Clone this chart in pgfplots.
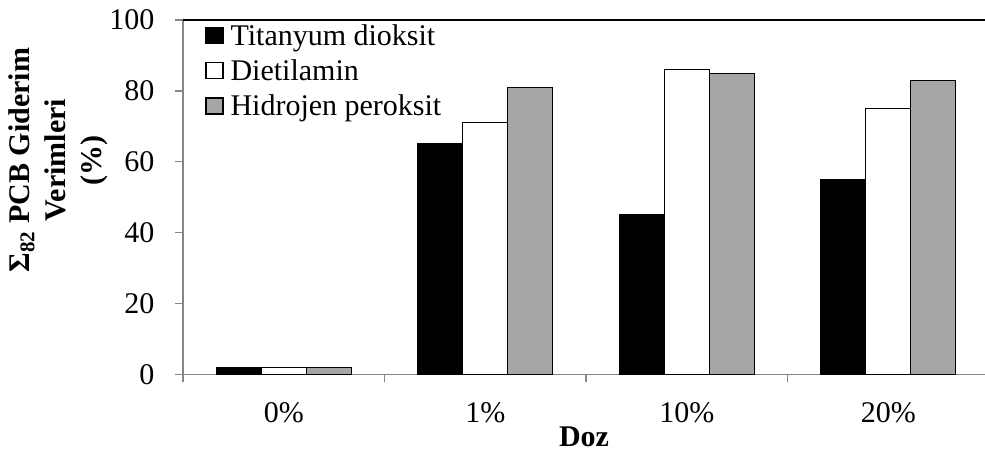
\documentclass[border=0pt]{standalone}
\usepackage{pgfplots}
\pgfplotsset{compat=1.18}
\usepackage{fontspec}
\setmainfont{Liberation Serif}
\usetikzlibrary{calc}
\definecolor{axgray}{RGB}{134,134,134}
\definecolor{bargray}{RGB}{166,166,166}
\pgfplotstableread{
x titan diet hidro
0 2 2 2
1 65 71 81
2 45 86 85
3 55 75 83
}\datatable
\begin{document}
\begin{tikzpicture}[font=\fontsize{30}{36}\selectfont]
\begin{axis}[name=ax, scale only axis, width=802pt, height=354.5pt,
  xmin=-0.5, xmax=3.48, ymin=0, ymax=100, clip=false,
  axis x line*=bottom, axis y line*=left,
  axis line style={axgray, line width=1.3pt},
  xtick={-0.5,0.5,1.5,2.5}, xticklabels={},
  extra x ticks={0,1,2,3},
  extra x tick labels={0\%,1\%,10\%,20\%},
  extra x tick style={major tick length=0pt, tick style={draw=none}},
  ytick={0,20,40,60,80,100},
  tick align=outside, major tick length=8pt,
  tick style={axgray, line width=1.3pt},
  /pgf/number format/assume math mode=true,
  tick label style={font=\fontsize{30}{36}\selectfont},
  yticklabel style={xshift=-17pt},
  xticklabel style={yshift=-25pt},
  ybar, bar width=0.2233,
  ylabel={Σ\textsubscript{82} PCB Giderim\\Verimleri\\(\%)},
  ylabel style={align=center, font=\bfseries\fontsize{30}{36}\selectfont,
    at={(axis description cs:-0.156,0.605)}, anchor=center},
  xlabel={Doz},
  xlabel style={font=\bfseries\fontsize{30}{36}\selectfont,
    at={(axis description cs:0.5,-0.2045)}, anchor=base},
  legend style={at={(rel axis cs:0.025,1.0)}, anchor=north west, draw=none, fill=none,
    font=\fontsize{30}{36}\selectfont, row sep=9pt, column sep=5pt, inner sep=2pt},
  legend cell align=left,
  myleg/.style={legend image code/.code={\draw[##1,line width=1.3pt,draw=black] (0pt,-8pt) rectangle (17pt,8pt);}},
]
\addplot[fill=black, draw=black, line width=1.3pt, bar shift=-0.2233, myleg] table[x=x,y=titan] {\datatable};
\addplot[fill=white, draw=black, line width=1.3pt, bar shift=0, myleg] table[x=x,y=diet] {\datatable};
\addplot[fill=bargray, draw=black, line width=1.3pt, bar shift=0.2233, myleg] table[x=x,y=hidro] {\datatable};
\legend{Titanyum dioksit, Dietilamin, Hidrojen peroksit}
\draw[black, line width=1.3pt] (rel axis cs:0,1) -- (rel axis cs:1,1);
\end{axis}
\pgfresetboundingbox
\path[use as bounding box] ($(ax.south west)+(-183pt,-77.5pt)$) rectangle ($(ax.north east)+(0pt,20pt)$);
\end{tikzpicture}
\end{document}
